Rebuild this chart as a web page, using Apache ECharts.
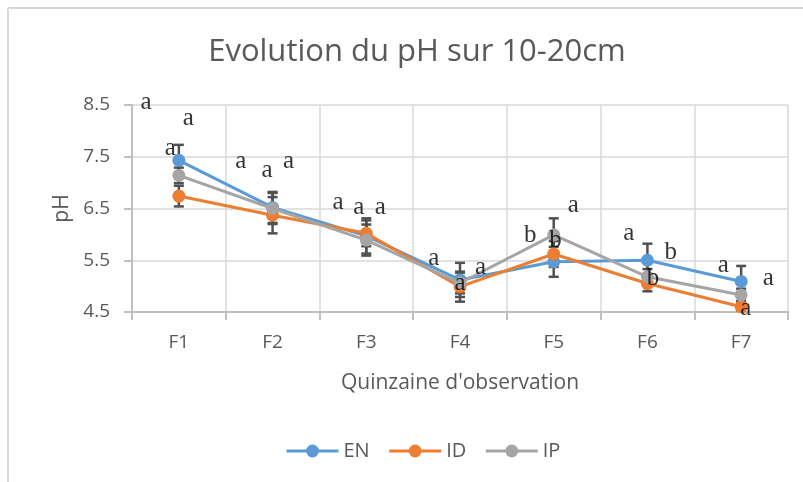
<!DOCTYPE html>
<html>
<head>
<meta charset="utf-8">
<script src="https://cdn.jsdelivr.net/npm/echarts@6/dist/echarts.min.js"></script>
<style>
  html, body { margin: 0; padding: 0; background: #fff; }
  #chart { width: 803px; height: 482px; }
</style>
</head>
<body>
<div id="chart"></div>
<script>
  var categories = ['F1', 'F2', 'F3', 'F4', 'F5', 'F6', 'F7'];
  var seriesNames = ['EN', 'ID', 'IP'];
  var colors = ['#5b9bd5', '#ed7d31', '#a5a5a5'];

  var valEN = [7.43, 6.52, 5.97, 5.12, 5.47, 5.50, 5.09];
  var valID = [6.74, 6.37, 6.02, 4.99, 5.62, 5.05, 4.60];
  var valIP = [7.14, 6.50, 5.89, 5.06, 5.99, 5.18, 4.83];

  var errEN = [0.30, 0.30, 0.34, 0.33, 0.29, 0.32, 0.30];
  var errID = [0.20, 0.35, 0.25, 0.29, 0.25, 0.15, 0.07];
  var errIP = [0.15, 0.30, 0.30, 0.20, 0.32, 0.15, 0.12];

  // lettres de significativite : [x (index categorie), y (pH), texte]
  var letters = [
    [-0.35, 8.54, 'a'], [0.10, 8.24, 'a'], [-0.09, 7.67, 'a'],
    [0.66, 7.40, 'a'], [0.94, 7.24, 'a'], [1.17, 7.40, 'a'],
    [1.70, 6.61, 'a'], [1.92, 6.53, 'a'], [2.15, 6.53, 'a'],
    [2.72, 5.54, 'a'], [3.00, 5.06, 'a'], [3.22, 5.37, 'a'],
    [3.75, 5.98, 'b'], [4.02, 5.89, 'b'], [4.21, 6.56, 'a'],
    [4.80, 6.02, 'a'], [5.25, 5.66, 'b'], [5.06, 5.15, 'b'],
    [5.81, 5.40, 'a'], [6.29, 5.15, 'a'], [6.05, 4.57, 'a']
  ];

  var values = [valEN, valID, valIP];
  var errors = [errEN, errID, errIP];
  var font = '"Open Sans", Lato, sans-serif';

  var series = [];
  for (var s = 0; s < 3; s++) {
    var errData = [];
    for (var i = 0; i < categories.length; i++) {
      errData.push([i, values[s][i], errors[s][i]]);
    }
    series.push({
      type: 'custom',
      name: seriesNames[s] + '_err',
      z: 1,
      silent: true,
      data: errData,
      renderItem: function (params, api) {
        var x = api.value(0), v = api.value(1), e = api.value(2);
        var top = api.coord([x, v + e]);
        var bot = api.coord([x, v - e]);
        var cap = 5;
        var st = { stroke: '#505050', lineWidth: 2.5 };
        return {
          type: 'group',
          children: [
            { type: 'line', shape: { x1: top[0], y1: top[1], x2: bot[0], y2: bot[1] }, style: st },
            { type: 'line', shape: { x1: top[0] - cap, y1: top[1], x2: top[0] + cap, y2: top[1] }, style: st },
            { type: 'line', shape: { x1: bot[0] - cap, y1: bot[1], x2: bot[0] + cap, y2: bot[1] }, style: st }
          ]
        };
      }
    });
  }
  for (var s2 = 0; s2 < 3; s2++) {
    series.push({
      type: 'line',
      name: seriesNames[s2],
      data: values[s2],
      z: 2 + s2,
      symbol: 'circle',
      symbolSize: 13,
      color: colors[s2],
      lineStyle: { width: 3, color: colors[s2] },
      itemStyle: { color: colors[s2] }
    });
  }
  series.push({
    type: 'scatter',
    name: 'lettres',
    xAxisIndex: 1,
    z: 10,
    symbolSize: 0,
    silent: true,
    clip: false,
    data: letters,
    label: {
      show: true,
      position: 'inside',
      formatter: function (p) { return p.data[2]; },
      fontFamily: '"Liberation Serif", "DejaVu Serif", serif',
      fontSize: 25,
      color: '#000'
    }
  });

  var chart = echarts.init(document.getElementById('chart'));
  chart.setOption({
    animation: false,
    backgroundColor: '#fff',
    graphic: [
      { type: 'line', shape: { x1: 8, y1: 8, x2: 803, y2: 8 }, style: { stroke: '#d9d9d9', lineWidth: 2 } },
      { type: 'line', shape: { x1: 8, y1: 8, x2: 8, y2: 482 }, style: { stroke: '#d9d9d9', lineWidth: 2 } }
    ],
    title: {
      text: 'Evolution du pH sur 10-20cm',
      left: 412,
      textAlign: 'center',
      top: 32,
      textStyle: { fontFamily: font, fontSize: 31, fontWeight: 'normal', color: '#595959' }
    },
    legend: {
      data: seriesNames,
      left: 280,
      top: 436,
      itemWidth: 52,
      itemHeight: 16,
      itemGap: 18,
      lineStyle: { width: 3 },
      textStyle: { fontFamily: font, fontSize: 20, color: '#595959' }
    },
    grid: { left: 132, right: 15, top: 105, bottom: 170 },
    xAxis: [{
      type: 'category',
      data: categories,
      boundaryGap: true,
      name: "Quinzaine d'observation",
      nameLocation: 'middle',
      nameGap: 61,
      nameTextStyle: { fontFamily: font, fontSize: 21, color: '#595959' },
      axisLine: { lineStyle: { color: '#bfbfbf', width: 2 } },
      axisTick: { show: true, length: 8, lineStyle: { color: '#bfbfbf', width: 2 } },
      axisLabel: { fontFamily: font, fontSize: 19, color: '#595959', margin: 21 },
      splitLine: { show: true, lineStyle: { color: '#d9d9d9', width: 1.5 } }
    }, {
      type: 'value',
      min: -0.5,
      max: 6.5,
      show: false
    }],
    yAxis: {
      type: 'value',
      min: 4.5,
      max: 8.5,
      interval: 1,
      name: 'pH',
      nameLocation: 'middle',
      nameGap: 58,
      nameTextStyle: { fontFamily: font, fontSize: 21, color: '#595959' },
      axisLine: { show: true, onZero: false, lineStyle: { color: '#bfbfbf', width: 2 } },
      axisTick: { show: true, length: 8, lineStyle: { color: '#bfbfbf', width: 2 } },
      axisLabel: {
        fontFamily: font, fontSize: 19, color: '#595959', margin: 22,
        formatter: function (v) { return v.toFixed(1); }
      },
      splitLine: { show: true, lineStyle: { color: '#d9d9d9', width: 1.5 } }
    },
    series: series
  });
</script>
</body>
</html>
